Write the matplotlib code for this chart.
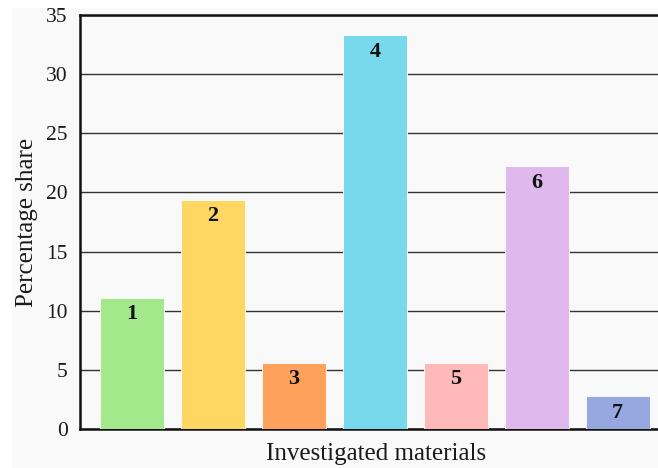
import matplotlib
matplotlib.use("Agg")
import matplotlib.pyplot as plt
from matplotlib.patches import Rectangle

# share of each investigated material (%)
materials = ["1", "2", "3", "4", "5", "6", "7"]
shares = [11.1, 19.4, 5.6, 33.3, 5.6, 22.2, 2.8]
colors = ["#a3e98b", "#fed762", "#fea15a", "#79d9ec", "#ffb9b9", "#e0b9ec", "#97a8e0"]
yticks = [0, 5, 10, 15, 20, 25, 30, 35]

plt.rcParams["font.family"] = ["Liberation Serif", "DejaVu Serif"]

W, H = 658, 468
fig = plt.figure(figsize=(W / 100, H / 100), dpi=100, facecolor="white")
# light grey panel behind the chart
fig.patches.append(Rectangle((12 / W, 0), 1, 1 - 8 / H, transform=fig.transFigure,
                             facecolor="#f9f9f9", edgecolor="none", zorder=-10))

# plot area runs a little past the right edge of the canvas
ax = fig.add_axes([80 / W, 1 - 429 / H, (672 - 80) / W, (429 - 15) / H])
ax.set_facecolor("#f9f9f9")

x = list(range(len(materials)))
ax.bar(x, shares, width=0.79, color=colors, edgecolor="white", linewidth=0.6,
       zorder=3)
for xi, v, lab in zip(x, shares, materials):
    ax.annotate(lab, (xi, v), xytext=(0, -12), textcoords="offset points",
                ha="center", va="center", fontsize=16, fontweight="bold",
                color="#111111", zorder=4)

ax.set_xlim(-0.64, 6.67)
ax.set_ylim(0, 35)
ax.set_yticks(yticks)
ax.set_xticks([])
ax.yaxis.grid(True, color="#333333", linewidth=1.0, zorder=0)
ax.set_axisbelow(True)
ax.tick_params(axis="y", length=0, pad=9, labelsize=15.5, labelcolor="#1a1a1a")

ax.spines["right"].set_visible(False)
for side in ["left", "bottom", "top"]:
    ax.spines[side].set_linewidth(1.8)
    ax.spines[side].set_color("#111111")

ax.set_ylabel("Percentage share", fontsize=18, color="#1a1a1a", labelpad=6)
ax.set_xlabel("Investigated materials", fontsize=18, color="#1a1a1a", labelpad=10)

fig.savefig("out.png", dpi=100, facecolor="white")
